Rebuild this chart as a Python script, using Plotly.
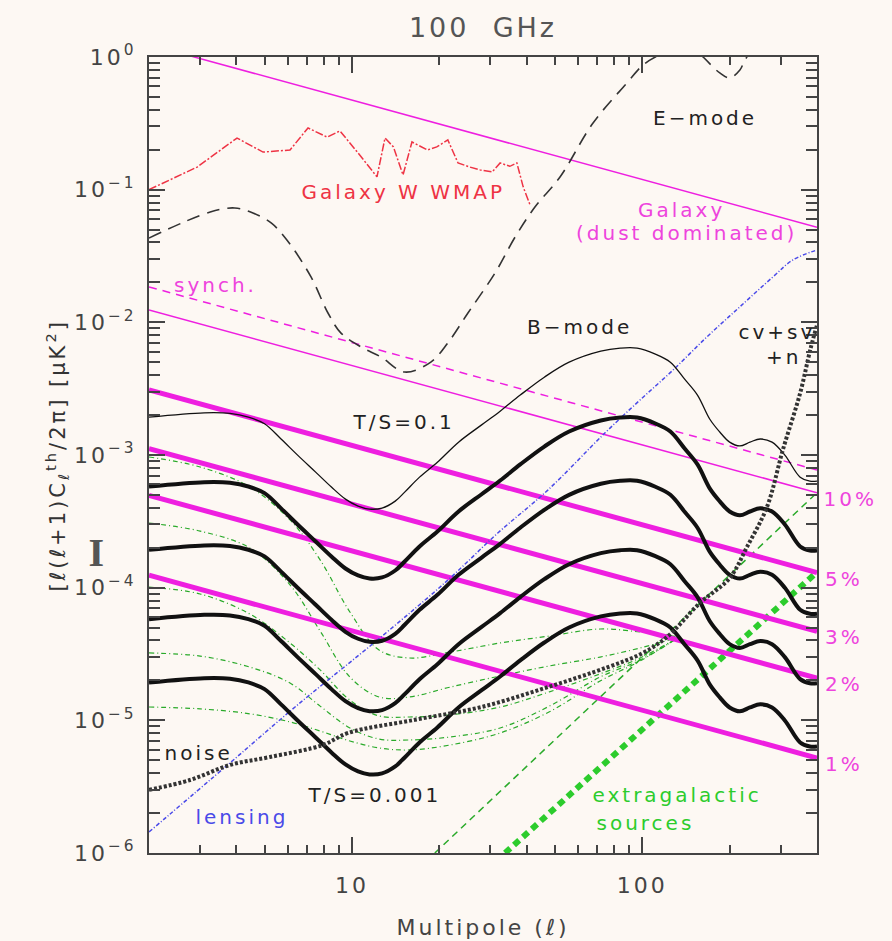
import math
import plotly.graph_objects as go

# ---------------- data ----------------
# axis extents
ell_range = [2, 400]
cl_range = [1e-6, 1.0]
x_tick_vals = [10, 100]
x_tick_text = ["10", "100"]
y_tick_vals = [1, 1e-1, 1e-2, 1e-3, 1e-4, 1e-5, 1e-6]
y_tick_text = ["10<sup>0</sup>", "10<sup>\u22121</sup>", "10<sup>\u22122</sup>",
               "10<sup>\u22123</sup>", "10<sup>\u22124</sup>", "10<sup>\u22125</sup>",
               "10<sup>\u22126</sup>"]

# polarized dust (100% line) and synchrotron, power laws
dust_ell = [2, 400]
dust_cl = [1.24, 0.052]
pol_frac = [10, 5, 3, 2, 1]          # per cent
synch_ell = [2, 400]
synch_cl = [0.0185, 7.7e-4]

# WMAP W-band galaxy estimate
wmap_ell = [2.0, 2.93, 4.02, 4.94, 6.12, 7.06, 8.21, 9.10, 10.5, 12.2, 13.0, 13.9,
            15.0, 16.1, 18.2, 19.6, 21.4, 23.2, 25.5, 27.6, 30.4, 32.4, 35.0, 37.0,
            38.9, 41.1]
wmap_cl = [0.100, 0.148, 0.245, 0.192, 0.199, 0.292, 0.249, 0.277, 0.189, 0.125,
           0.245, 0.210, 0.129, 0.229, 0.199, 0.210, 0.237, 0.159, 0.148, 0.141,
           0.136, 0.159, 0.150, 0.159, 0.105, 0.0766]

# E-mode spectrum
e_ell = [2, 3.25, 3.95, 4.56, 5.27, 5.97, 7.23, 8.27, 9.17, 10.75, 12.6, 15.2, 18.7,
         21.4, 25.1, 31.1, 36.5, 42.7, 52.1, 67.7, 88.6, 100.6, 115, 135, 150, 162,
         185, 200, 217, 226, 260, 320, 400]
e_cl = [0.0432, 0.0679, 0.0728, 0.0667, 0.0561, 0.0418, 0.022, 0.01176, 0.0083,
        0.00652, 0.00548, 0.00422, 0.00502, 0.00699, 0.01176, 0.0235, 0.044, 0.074,
        0.1246, 0.318, 0.637, 0.87, 1.04, 1.2, 1.15, 1.0, 0.758, 0.695, 0.798, 0.95,
        1.4, 1.6, 1.3]

# primordial B-mode spectrum for T/S = 0.1
b_ell = [2, 3.1, 3.8, 4.4, 5.0, 5.7, 6.5, 7.5, 8.5, 9.5, 10.5, 11.5, 12.7, 14.1, 15.2,
         17.1, 19.7, 23.3, 27.9, 32.4, 38, 46, 56, 72, 84, 96, 111, 125, 140, 155,
         171, 185, 200, 217, 235, 255, 280, 310, 350, 378, 400]
b_cl_ts01 = [1.93e-3, 2.08e-3, 2.06e-3, 1.93e-3, 1.72e-3, 1.32e-3, 9.98e-4, 7.43e-4,
             5.73e-4, 4.65e-4, 4.12e-4, 3.91e-4, 3.98e-4, 4.49e-4, 5.25e-4, 6.81e-4,
             8.83e-4, 1.25e-3, 1.68e-3, 2.14e-3, 2.83e-3, 3.86e-3, 5.01e-3, 6.07e-3,
             6.39e-3, 6.39e-3, 5.76e-3, 5.01e-3, 3.73e-3, 2.83e-3, 1.86e-3, 1.49e-3,
             1.25e-3, 1.17e-3, 1.25e-3, 1.32e-3, 1.25e-3, 9.98e-4, 6.81e-4, 6.35e-4,
             6.35e-4]
ts_ratios = [0.1, 0.03, 0.01, 0.003, 0.001]

# lensing B-modes
lens_ell = [2, 3.8, 6.37, 12.6, 21.4, 31.8, 47.3, 74.5, 98.3, 127.7, 167, 217, 282,
            330, 400]
lens_cl = [1.44e-6, 4.77e-6, 1.26e-5, 4.25e-5, 1.14e-4, 2.58e-4, 5.44e-4, 1.47e-3,
           2.60e-3, 4.37e-3, 7.76e-3, 1.31e-2, 2.20e-2, 2.95e-2, 3.51e-2]

# noise, rising into cosmic + sample variance + noise
noise_ell = [2, 2.77, 3.80, 5.22, 7.94, 9.70, 16.5, 27.9, 47.3, 76.2, 100, 121.7,
             158, 200, 229.6, 269, 305, 350, 379, 400]
noise_cl = [2.99e-6, 3.55e-6, 4.61e-6, 5.29e-6, 6.52e-6, 8.03e-6, 1.01e-5, 1.26e-5,
            1.78e-5, 2.52e-5, 3.2e-5, 4.25e-5, 7.66e-5, 1.18e-4, 2.03e-4, 4.06e-4,
            1.09e-3, 2.93e-3, 6.19e-3, 9.55e-3]

# green residual curves
green_ell = [2, 3.0, 4.45, 6.12, 7.77, 9.84, 12.4, 15.8, 21.8, 32.4, 47.9, 71.6,
             98.3, 134]
green_1 = [9.66e-4, 8.12e-4, 5.74e-4, 3.24e-4, 1.62e-4, 6.56e-5, 3.39e-5, 2.95e-5,
           3.27e-5, 3.83e-5, 4.32e-5, 4.88e-5, 4.63e-5, 4.25e-5]
green_2 = [3.07e-4, 2.67e-4, 1.99e-4, 1.05e-4, 4.72e-5, 2.12e-5, 1.50e-5, 1.50e-5,
           1.78e-5, 2.16e-5, 2.57e-5, 3.00e-5, 3.51e-5, 4.25e-5]
green_3 = [1.01e-4, 8.96e-5, 6.33e-5, 3.83e-5, 2.40e-5, 1.42e-5, 1.08e-5, 1.06e-5,
           1.10e-5, 1.26e-5, 1.64e-5, 2.24e-5, 2.95e-5, 4.25e-5]
green_4 = [3.22e-5, 3.05e-5, 2.52e-5, 1.91e-5, 1.28e-5, 8.76e-6, 7.23e-6, 7.11e-6,
           7.49e-6, 8.76e-6, 1.28e-5, 2.12e-5, 2.85e-5, 4.25e-5]
green_5 = [1.26e-5, 1.22e-5, 1.12e-5, 9.72e-6, 8.31e-6, 6.99e-6, 6.19e-6, 5.98e-6,
           6.52e-6, 8.03e-6, 1.16e-5, 1.98e-5, 2.80e-5, 4.25e-5]

# extragalactic point sources (two levels)
ps_ell = [19.3, 400]
ps_cl = [1e-6, 5.2e-4]
ps_low_ell = [33.7, 400]
ps_low_cl = [1e-6, 1.31e-4]

# ---------------- styling ----------------
BG = "#fdf8f3"
MAGENTA = "#ee1fe0"
MAG_TXT = "#ee44dd"
GREEN = "#2aaa2a"
GREEN_T = "#2ccc2c"
BLUE = "#4a4ae8"
RED = "#ee3344"
INK = "#222222"
FONT = "DejaVu Sans"
LABEL_SIZE = 20

fig = go.Figure()


def line(x, y, color, width, dash="solid", shape="linear"):
    fig.add_trace(go.Scatter(x=x, y=y, mode="lines", hoverinfo="skip",
                             line=dict(color=color, width=width, dash=dash,
                                       shape=shape)))


# residual curves
for g in [green_1, green_2, green_3, green_4, green_5]:
    line(green_ell, g, GREEN, 1.2, "5px,3px,1px,3px", "spline")

# point sources
line(ps_ell, ps_cl, GREEN, 1.5, "7px,5px")
line(ps_low_ell, ps_low_cl, GREEN_T, 6, "7px,5px")

# galaxy: dust, polarization fractions, synchrotron
line(dust_ell, dust_cl, MAGENTA, 1.5)
for p in pol_frac:
    vals = [c * (p / 100.0) ** 2 for c in dust_cl]
    line(dust_ell, vals, MAGENTA, 1.5 if p == 10 else 5)
line(synch_ell, synch_cl, MAGENTA, 1.5, "8px,6px")

# WMAP galaxy
line(wmap_ell, wmap_cl, RED, 1.5, "8px,2px,2px,2px")

# lensing
line(lens_ell, lens_cl, BLUE, 1.5, "4px,2px,1px,2px", "spline")

# CMB E and B modes
line(e_ell, e_cl, "#333333", 1.6, "13px,8px", "spline")
for r in ts_ratios:
    vals = [c * r / 0.1 for c in b_cl_ts01]
    line(b_ell, vals, "#111111", 1.3 if r == 0.1 else 4, "solid", "spline")

# noise
line(noise_ell, noise_cl, "#333333", 4, "3px,2px", "spline")


# ---------------- labels ----------------
def at(ell, cl):
    return math.log10(ell), math.log10(cl)


def label(text, ell, cl, color=INK, size=LABEL_SIZE, **kw):
    x, y = at(ell, cl)
    fig.add_annotation(x=x, y=y, xref="x", yref="y", text=text, showarrow=False,
                       font=dict(family=FONT, size=size, color=color), **kw)


label("E\u2212mode", 164.6, 0.347)
label("Galaxy W WMAP", 15.0, 0.096, RED)
label("Galaxy", 137, 0.0703, MAG_TXT)
label("(dust dominated)", 142.6, 0.0471, MAG_TXT)
label("synch.", 3.4, 0.0191, MAG_TXT)
label("B\u2212mode", 60.6, 9.3e-3)
label("cv+sv", 291, 8.46e-3)
label("+n", 306, 5.48e-3)
label("T/S=0.1", 15.0, 1.77e-3)
label("T/S=0.001", 12.0, 2.74e-6)
label("noise", 2.95, 5.67e-6)
label("lensing", 4.18, 1.87e-6, BLUE)
label("extragalactic", 131.8, 2.74e-6, GREEN_T)
label("sources", 102.3, 1.68e-6, GREEN_T)

# fraction labels at the right ends of the polarized-dust lines
for p in pol_frac:
    end = dust_cl[-1] * (p / 100.0) ** 2
    fig.add_annotation(x=1.013, xref="paper", y=math.log10(end), yref="y",
                       yshift=-6, text=f"{p}%", showarrow=False, xanchor="left",
                       font=dict(family=FONT, size=LABEL_SIZE, color=MAG_TXT))

# axis titles
fig.add_annotation(x=-0.163, y=0.5, xref="paper", yref="paper", textangle=-90,
                   text="[\u2113(\u2113+1)C<sub>\u2113</sub><sup>th</sup>/2\u03c0] "
                        "[\u03bcK<sup>2</sup>]",
                   showarrow=False, font=dict(family=FONT, size=21, color="#333333"))
fig.add_annotation(x=-0.0913, y=0.377, xref="paper", yref="paper", text="<b>I</b>",
                   showarrow=False,
                   font=dict(family="Liberation Serif", size=40, color="#555555"))
fig.add_annotation(x=0.5, y=-0.094, xref="paper", yref="paper", yanchor="middle",
                   text="Multipole (\u2113)", showarrow=False,
                   font=dict(family=FONT, size=22, color="#444444"))

axis_common = dict(type="log", showgrid=False, zeroline=False, showline=True,
                   linecolor="#444444", linewidth=2, mirror="ticks",
                   ticks="inside", tickcolor="#444444", tickwidth=1.5,
                   tickfont=dict(family=FONT, size=22, color="#444444"))

fig.update_xaxes(range=[math.log10(ell_range[0]), math.log10(ell_range[1])],
                 tickvals=x_tick_vals, ticktext=x_tick_text, ticklen=16,
                 ticklabelstandoff=12,
                 minor=dict(ticks="inside", ticklen=8, dtick="D1",
                            tickcolor="#444444", tickwidth=1.5, showgrid=False),
                 **axis_common)
fig.update_yaxes(range=[math.log10(cl_range[0]), math.log10(cl_range[1])],
                 tickvals=y_tick_vals, ticktext=y_tick_text, ticklen=16,
                 ticklabelstandoff=6,
                 minor=dict(ticks="inside", ticklen=11, dtick="D1",
                            tickcolor="#444444", tickwidth=1.5, showgrid=False),
                 **axis_common)

fig.update_layout(
    width=892, height=941,
    margin=dict(l=149, r=75, t=57, b=88),
    paper_bgcolor=BG, plot_bgcolor=BG,
    showlegend=False,
    title=dict(text="100  GHz", x=483 / 892, xanchor="center", y=1 - 28 / 941,
               yanchor="middle",
               font=dict(family=FONT, size=27, color="#555555")),
)

# the lettering of this figure is widely spaced
spacing_js = """
document.querySelectorAll('.main-svg text, .main-svg tspan').forEach(function (t) {
    t.style.letterSpacing = '3px';
});
"""
fig.write_html("out.html", post_script=spacing_js)
